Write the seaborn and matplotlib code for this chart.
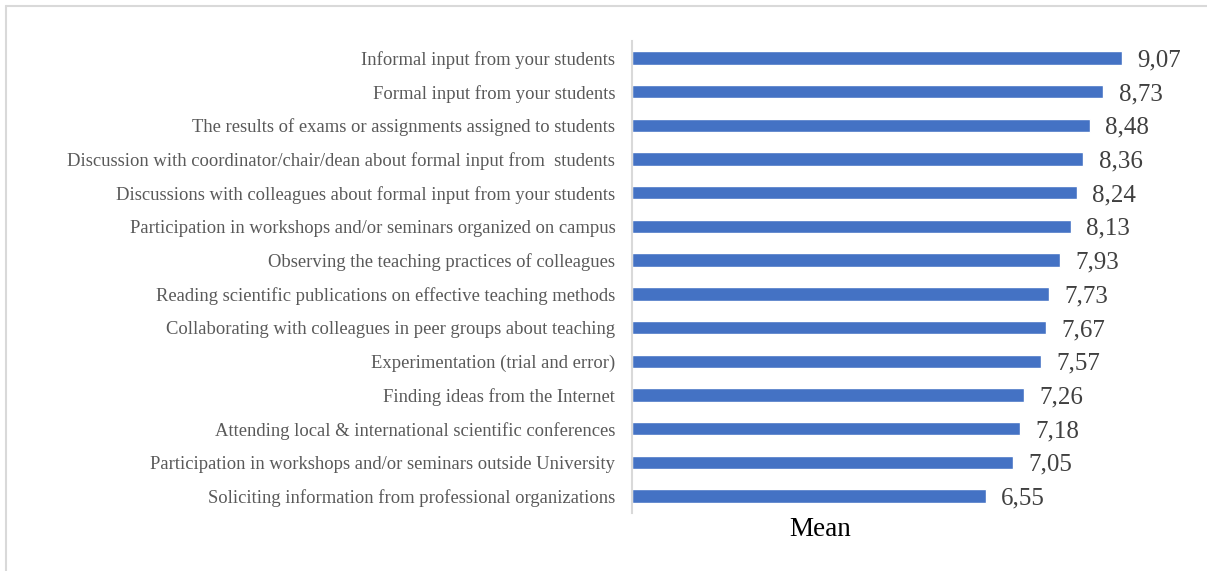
import pandas as pd
import matplotlib.pyplot as plt
import seaborn as sns
from matplotlib.lines import Line2D

# Data
categories = [
    "Informal input from your students",
    "Formal input from your students",
    "The results of exams or assignments assigned to students",
    "Discussion with coordinator/chair/dean about formal input from  students",
    "Discussions with colleagues about formal input from your students",
    "Participation in workshops and/or seminars organized on campus",
    "Observing the teaching practices of colleagues",
    "Reading scientific publications on effective teaching methods",
    "Collaborating with colleagues in peer groups about teaching",
    "Experimentation (trial and error)",
    "Finding ideas from the Internet",
    "Attending local & international scientific conferences",
    "Participation in workshops and/or seminars outside University",
    "Soliciting information from professional organizations",
]
means = [9.07, 8.73, 8.48, 8.36, 8.24, 8.13, 7.93, 7.73, 7.67, 7.57, 7.26, 7.18, 7.05, 6.55]

df = pd.DataFrame({"item": categories, "mean": means})

sns.set_theme(style="white")
plt.rcParams['font.family'] = ['Liberation Serif', 'DejaVu Serif']

fig = plt.figure(figsize=(12.07, 5.71), dpi=100)
ax = fig.add_axes([632 / 1207, 1 - 513 / 571, 540 / 1207, 472 / 571])

sns.barplot(data=df, x="mean", y="item", orient="h", color="#4472C4",
            saturation=1, width=0.4, ax=ax)

ax.set_xlim(0, 10)
ax.set_ylim(13.5, -0.5)

# value labels with comma decimals
lbls = ax.bar_label(ax.containers[0], labels=[f"{v:.2f}".replace(".", ",") for v in means],
                    padding=11, fontsize=18, color="#404040")
for t in lbls:
    t.set_va("center_baseline")

for s in ["top", "right", "bottom"]:
    ax.spines[s].set_visible(False)
ax.spines["left"].set_color("#d9d9d9")
ax.spines["left"].set_linewidth(1.5)

ax.set_xticks([])
ax.tick_params(axis="y", length=0, pad=12, labelsize=13.4, labelcolor="#595959")
ax.set_ylabel("")
ax.set_xlabel("Mean", fontsize=19.5, color="black")
ax.xaxis.set_label_coords((820 - 632) / 540, -0.008)

# outer frame (top and left edges visible)
fig.add_artist(Line2D([6 / 1207, 1], [1 - 6 / 571, 1 - 6 / 571], color="#d9d9d9",
                      lw=1.5, transform=fig.transFigure))
fig.add_artist(Line2D([6 / 1207, 6 / 1207], [0, 1 - 6 / 571], color="#d9d9d9",
                      lw=1.5, transform=fig.transFigure))

fig.savefig("out.png", dpi=100)
